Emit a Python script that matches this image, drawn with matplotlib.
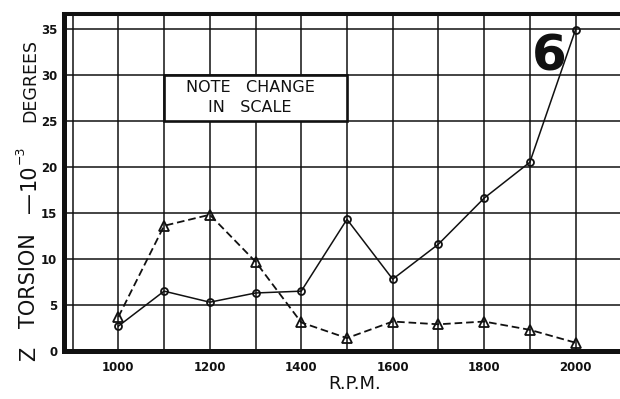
import matplotlib
matplotlib.use("Agg")
import matplotlib.pyplot as plt
from matplotlib.patches import Rectangle

plt.rcParams["font.family"] = ["DejaVu Sans"]
plt.rcParams["lines.scale_dashes"] = False

# Engine speed and measured torsion (units of 10^-3 degrees)
rpm = [1000, 1100, 1200, 1300, 1400, 1500, 1600, 1700, 1800, 1900, 2000]
torsion_circle = [2.7, 6.5, 5.3, 6.3, 6.5, 14.3, 7.8, 11.6, 16.6, 20.5, 34.9]
torsion_triangle = [3.7, 13.6, 14.8, 9.7, 3.1, 1.4, 3.2, 2.9, 3.2, 2.3, 0.9]

x_grid = list(range(900, 2200, 100))
x_tick_labels = ["", "1000", "", "1200", "", "1400", "", "1600", "", "1800", "", "2000", ""]
y_ticks = [0, 5, 10, 15, 20, 25, 30, 35]
y_tick_labels = ["0", "5", "10", "15", "20", "25", "30", "35"]

W, H = 620, 399
fig = plt.figure(figsize=(W / 100, H / 100), dpi=100)
fig.patch.set_facecolor("white")

# axes frame (right edge runs past the figure border)
left_px, right_px, top_px, bottom_px = 63.5, 635.0, 14.0, 351.0
ax = fig.add_axes([left_px / W, (H - bottom_px) / H,
                   (right_px - left_px) / W, (bottom_px - top_px) / H])
ax.set_xlim(880, 2130)
ax.set_ylim(0, 36.6)

ink = "#111111"
ax.set_xticks(x_grid)
ax.set_xticklabels(x_tick_labels, fontsize=8.5, fontweight="bold", color=ink)
ax.set_yticks(y_ticks)
ax.set_yticklabels(y_tick_labels, fontsize=8.5, fontweight="bold", color=ink)
ax.tick_params(axis="both", length=0)
ax.tick_params(axis="x", pad=7.5)
ax.tick_params(axis="y", pad=4.5)

ax.grid(True, color=ink, linewidth=1.1)
ax.set_axisbelow(True)

ax.spines["left"].set_linewidth(3.6)
ax.spines["bottom"].set_linewidth(3.6)
ax.spines["top"].set_linewidth(2.9)
ax.spines["right"].set_visible(False)
for s in ax.spines.values():
    s.set_color(ink)
    s.set_zorder(5)

ax.plot(rpm, torsion_triangle, color=ink, linewidth=1.3, linestyle=(0, (5.5, 2.8)),
        marker="^", markersize=6.5, markerfacecolor="none",
        markeredgecolor=ink, markeredgewidth=1.3, zorder=4)
ax.plot(rpm, torsion_circle, color=ink, linewidth=1.1,
        marker="o", markersize=5, markerfacecolor="none",
        markeredgecolor=ink, markeredgewidth=1.3, zorder=4)

# boxed note
ax.add_patch(Rectangle((1100, 25), 400, 5, facecolor="white", edgecolor=ink,
                       linewidth=1.9, zorder=3))
ax.text(1288, 28.6, "NOTE   CHANGE", ha="center", va="center", fontsize=11.5,
        color=ink, zorder=4)
ax.text(1288, 26.45, "IN   SCALE", ha="center", va="center", fontsize=11.5,
        color=ink, zorder=4)

# figure number
ax.text(1942, 30.5, "6", ha="center", va="baseline", fontsize=36,
        fontweight="bold", color=ink, zorder=4)

# axis titles
fig.text(355 / W, 1 - 384 / H, "R.P.M.", ha="center", va="center",
         fontsize=13, color=ink)

def ylab(y_px, s, size, x_px=29):
    fig.text(x_px / W, 1 - y_px / H, s, rotation=90, ha="center", va="center",
             fontsize=size, color=ink)

ylab(354, "Z", 15)
ylab(281, "TORSION", 15)
ylab(203, "—", 15)
ylab(177, "10", 15)
ylab(155, "−3", 9, x_px=20)
ylab(80, "DEGREES", 12.5, x_px=30)

fig.savefig("out.png", dpi=100, facecolor="white")
